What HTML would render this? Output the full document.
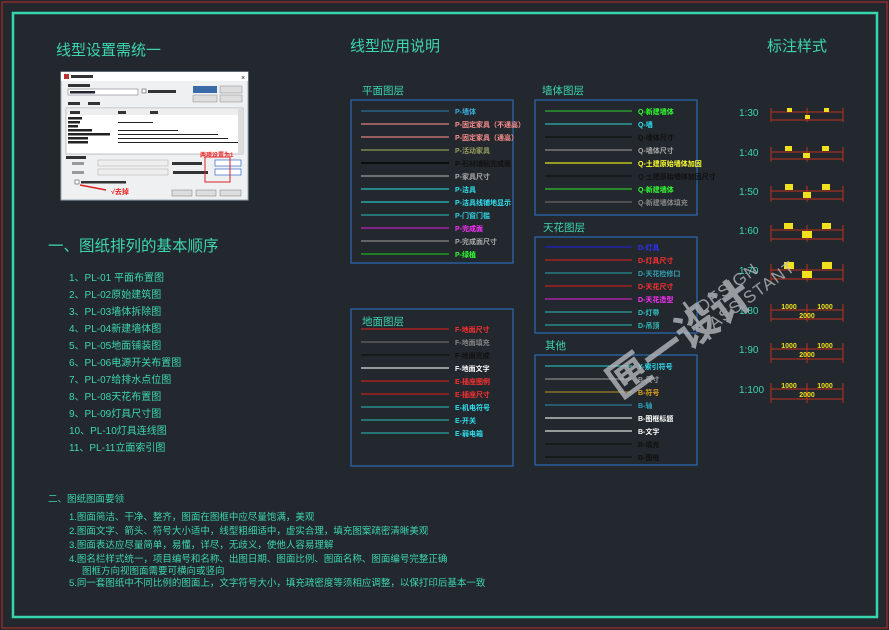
<!DOCTYPE html>
<html><head><meta charset="utf-8"><style>
html,body{margin:0;padding:0;background:#22282d;}
svg{display:block;font-family:"Liberation Sans","Noto Sans CJK SC",sans-serif;}
.t{fill:#3dd6b0;}
.lb{font-size:7px;font-weight:bold;}
</style></head><body>
<svg width="889" height="630" viewBox="0 0 889 630" xmlns="http://www.w3.org/2000/svg">
<rect width="889" height="630" fill="#22282d"/>
<!-- outer red frame -->
<rect x="2" y="2" width="885" height="626" fill="none" stroke="#8a2a2a" stroke-width="1.5"/>
<rect x="13" y="13" width="864" height="604" fill="none" stroke="#35d6ae" stroke-width="2.5"/>

<!-- titles -->
<text x="56" y="55" class="t" font-size="15">线型设置需统一</text>
<text x="350" y="51" class="t" font-size="15">线型应用说明</text>
<text x="767" y="51" class="t" font-size="15">标注样式</text>

<!-- dialog screenshot -->
<g>
<rect x="61" y="72" width="187" height="128" fill="#eef0f2" stroke="#9ab" stroke-width="1"/>
<rect x="61" y="72" width="187" height="9" fill="#fff"/>
<rect x="64" y="74" width="5" height="5" fill="#b33"/>
<rect x="71" y="75" width="22" height="3" fill="#333"/>
<text x="241" y="80" font-size="7" fill="#222">×</text>
<rect x="68" y="84" width="22" height="3" fill="#333"/>
<rect x="68" y="89" width="70" height="6" fill="#fff" stroke="#667" stroke-width=".5"/>
<rect x="70" y="91" width="25" height="2.5" fill="#223"/>
<rect x="142" y="89" width="4" height="4" fill="#fff" stroke="#333" stroke-width=".5"/>
<rect x="148" y="90" width="28" height="3" fill="#333"/>
<rect x="193" y="86" width="24" height="7" fill="#3a6aa8"/>
<rect x="220" y="86" width="22" height="7" fill="#ddd" stroke="#888" stroke-width=".5"/>
<rect x="193" y="95" width="24" height="7" fill="#ddd" stroke="#888" stroke-width=".5"/>
<rect x="220" y="95" width="22" height="7" fill="#ddd" stroke="#888" stroke-width=".5"/>
<rect x="68" y="102" width="12" height="3" fill="#333"/>
<rect x="88" y="102" width="12" height="3" fill="#333"/>
<rect x="66" y="108" width="177" height="46" fill="#fff" stroke="#888" stroke-width=".5"/>
<rect x="67" y="109" width="175" height="6" fill="#eee"/>
<rect x="70" y="111" width="10" height="3" fill="#333"/><rect x="118" y="111" width="8" height="3" fill="#333"/><rect x="150" y="111" width="8" height="3" fill="#333"/>
<g fill="#222">
<rect x="68" y="117" width="14" height="2.5"/><rect x="68" y="121" width="12" height="2.5"/><rect x="68" y="125" width="10" height="2.5"/><rect x="68" y="129" width="24" height="2.5"/><rect x="68" y="133" width="42" height="2.5"/><rect x="68" y="137" width="20" height="2.5"/><rect x="68" y="141" width="20" height="2.5"/>
<rect x="118" y="122" width="35" height="1"/><rect x="118" y="130" width="60" height="1"/><rect x="118" y="134" width="100" height="1"/><rect x="118" y="138" width="110" height="1"/><rect x="118" y="142" width="120" height="1"/>
</g>
<rect x="238" y="109" width="5" height="45" fill="#ddd"/>
<rect x="66" y="156" width="20" height="3" fill="#333"/>
<rect x="72" y="162" width="12" height="3" fill="#999"/><rect x="98" y="160" width="70" height="6" fill="#eee" stroke="#aaa" stroke-width=".5"/>
<rect x="72" y="171" width="12" height="3" fill="#999"/><rect x="98" y="169" width="70" height="6" fill="#eee" stroke="#aaa" stroke-width=".5"/>
<rect x="172" y="162" width="30" height="3" fill="#333"/><rect x="173" y="171" width="35" height="3" fill="#333"/>
<rect x="215" y="160" width="26" height="6" fill="#fff" stroke="#36c" stroke-width=".7"/>
<rect x="215" y="169" width="26" height="6" fill="#fff" stroke="#36c" stroke-width=".7"/>
<rect x="205" y="157" width="25" height="25" fill="none" stroke="#d22" stroke-width="1"/>
<text x="200" y="157" font-size="6" fill="#e22" font-weight="bold">两项设置为1</text>
<rect x="75" y="180" width="4" height="4" fill="#fff" stroke="#333" stroke-width=".5"/>
<rect x="81" y="181" width="45" height="2.5" fill="#333"/>
<line x1="80" y1="185" x2="106" y2="190" stroke="#d22" stroke-width="1.5"/>
<text x="111" y="194" font-size="7" fill="#e22" font-weight="bold">√去掉</text>
<rect x="172" y="190" width="20" height="6" fill="#ddd" stroke="#777" stroke-width=".5"/>
<rect x="196" y="190" width="20" height="6" fill="#ddd" stroke="#777" stroke-width=".5"/>
<rect x="220" y="190" width="21" height="6" fill="#ddd" stroke="#777" stroke-width=".5"/>
</g>

<!-- section 1 -->
<text x="48" y="251" class="t" font-size="15.5">一、图纸排列的基本顺序</text>
<g class="t" font-size="10">
<text x="69" y="281">1、PL-01  平面布置图</text>
<text x="69" y="298">2、PL-02原始建筑图</text>
<text x="69" y="315">3、PL-03墙体拆除图</text>
<text x="69" y="332">4、PL-04新建墙体图</text>
<text x="69" y="349">5、PL-05地面铺装图</text>
<text x="69" y="366">6、PL-06电源开关布置图</text>
<text x="69" y="383">7、PL-07给排水点位图</text>
<text x="69" y="400">8、PL-08天花布置图</text>
<text x="69" y="417">9、PL-09灯具尺寸图</text>
<text x="69" y="434">10、PL-10灯具连线图</text>
<text x="69" y="451">11、PL-11立面索引图</text>
</g>

<!-- section 2 -->
<g class="t" font-size="9.5">
<text x="48" y="502">二、图纸图面要领</text>
<text x="69" y="520">1.图面简洁、干净、整齐，图面在图框中应尽量饱满，美观</text>
<text x="69" y="534">2.图面文字、箭头、符号大小适中，线型粗细适中，虚实合理，填充图案疏密清晰美观</text>
<text x="69" y="548">3.图面表达应尽量简单，易懂，详尽，无歧义，使他人容易理解</text>
<text x="69" y="562">4.图名栏样式统一，项目编号和名称、出图日期、图面比例、图面名称、图面编号完整正确</text>
<text x="82" y="574">图框方向视图面需要可横向或竖向</text>
<text x="69" y="586">5.同一套图纸中不同比例的图面上，文字符号大小，填充疏密度等须相应调整，以保打印后基本一致</text>
</g>

<!-- legend titles -->
<g class="t" font-size="10.5">
<text x="362" y="94">平面图层</text>
<text x="542" y="94">墙体图层</text>
<text x="543" y="231">天花图层</text>
<text x="362" y="325">地面图层</text>
<text x="545" y="349">其他</text>
</g>
<g fill="none" stroke="#2a6ab8" stroke-width="1.2">
<rect x="351" y="100" width="162" height="163"/>
<rect x="535" y="100" width="162" height="115"/>
<rect x="535" y="237" width="162" height="96"/>
<rect x="351" y="309" width="162" height="157"/>
<rect x="535" y="355" width="162" height="110"/>
</g>

<!-- 平面 -->
<g stroke-width="1.3">
<line x1="361" y1="111" x2="449" y2="111" stroke="#2a6f9a"/>
<line x1="361" y1="124" x2="449" y2="124" stroke="#e08080"/>
<line x1="361" y1="137" x2="449" y2="137" stroke="#e08080"/>
<line x1="361" y1="150" x2="449" y2="150" stroke="#8a9a50"/>
<line x1="361" y1="163" x2="449" y2="163" stroke="#000"/>
<line x1="361" y1="176" x2="449" y2="176" stroke="#999"/>
<line x1="361" y1="189" x2="449" y2="189" stroke="#2ac0c0"/>
<line x1="361" y1="202" x2="449" y2="202" stroke="#2ac0c0"/>
<line x1="361" y1="215" x2="449" y2="215" stroke="#2aa0a0"/>
<line x1="361" y1="228" x2="449" y2="228" stroke="#c020c0"/>
<line x1="361" y1="241" x2="449" y2="241" stroke="#888"/>
<line x1="361" y1="254" x2="449" y2="254" stroke="#20b020"/>
</g>
<g class="lb">
<text x="455" y="114" fill="#3ab0e0">P-墙体</text>
<text x="455" y="127" fill="#ff9090">P-固定家具（不通高）</text>
<text x="455" y="140" fill="#ff9090">P-固定家具（通高）</text>
<text x="455" y="153" fill="#9aa060">P-活动家具</text>
<text x="455" y="166" fill="#111">P-石材铺贴完成面</text>
<text x="455" y="179" fill="#aaa">P-家具尺寸</text>
<text x="455" y="192" fill="#30e0f0">P-洁具</text>
<text x="455" y="205" fill="#30e0f0">P-洁具线铺地显示</text>
<text x="455" y="218" fill="#30d0e0">P-门窗门槛</text>
<text x="455" y="231" fill="#ff30ff">P-完成面</text>
<text x="455" y="244" fill="#aaa">P-完成面尺寸</text>
<text x="455" y="257" fill="#30ff30">P-绿植</text>
</g>

<!-- 墙体 -->
<g stroke-width="1.3">
<line x1="545" y1="111" x2="632" y2="111" stroke="#30b030"/>
<line x1="545" y1="124" x2="632" y2="124" stroke="#30b0b0"/>
<line x1="545" y1="137" x2="632" y2="137" stroke="#111"/>
<line x1="545" y1="150" x2="632" y2="150" stroke="#888"/>
<line x1="545" y1="163" x2="632" y2="163" stroke="#e0e020"/>
<line x1="545" y1="176" x2="632" y2="176" stroke="#111"/>
<line x1="545" y1="189" x2="632" y2="189" stroke="#30c030"/>
<line x1="545" y1="202" x2="632" y2="202" stroke="#666"/>
</g>
<g class="lb">
<text x="638" y="114" fill="#30ff30">Q-新建墙体</text>
<text x="638" y="127" fill="#30e0f0">Q-墙</text>
<text x="638" y="140" fill="#111">Q-墙体尺寸</text>
<text x="638" y="153" fill="#aaa">Q-墙体尺寸</text>
<text x="638" y="166" fill="#ffff30">Q-土建原始墙体加固</text>
<text x="638" y="179" fill="#111">Q-土建原始墙体加固尺寸</text>
<text x="638" y="192" fill="#30ff30">Q-新建墙体</text>
<text x="638" y="205" fill="#888">Q-新建墙体填充</text>
</g>

<!-- 天花 -->
<g stroke-width="1.3">
<line x1="545" y1="247" x2="632" y2="247" stroke="#2020c0"/>
<line x1="545" y1="260" x2="632" y2="260" stroke="#c02020"/>
<line x1="545" y1="273" x2="632" y2="273" stroke="#2a8a9a"/>
<line x1="545" y1="286" x2="632" y2="286" stroke="#c02020"/>
<line x1="545" y1="299" x2="632" y2="299" stroke="#c020c0"/>
<line x1="545" y1="312" x2="632" y2="312" stroke="#2aa0a0"/>
<line x1="545" y1="325" x2="632" y2="325" stroke="#2aa0a0"/>
</g>
<g class="lb">
<text x="638" y="250" fill="#3030ff">D-灯具</text>
<text x="638" y="263" fill="#ff3030">D-灯具尺寸</text>
<text x="638" y="276" fill="#30a0b0">D-天花检修口</text>
<text x="638" y="289" fill="#ff3030">D-天花尺寸</text>
<text x="638" y="302" fill="#ff30ff">D-天花造型</text>
<text x="638" y="315" fill="#30c0c0">D-灯带</text>
<text x="638" y="328" fill="#30c0c0">D-吊顶</text>
</g>

<!-- 地面 -->
<g stroke-width="1.3">
<line x1="361" y1="329" x2="449" y2="329" stroke="#c02020"/>
<line x1="361" y1="342" x2="449" y2="342" stroke="#666"/>
<line x1="361" y1="355" x2="449" y2="355" stroke="#111"/>
<line x1="361" y1="368" x2="449" y2="368" stroke="#ddd"/>
<line x1="361" y1="381" x2="449" y2="381" stroke="#c02020"/>
<line x1="361" y1="394" x2="449" y2="394" stroke="#c02020"/>
<line x1="361" y1="407" x2="449" y2="407" stroke="#2aa0a0"/>
<line x1="361" y1="420" x2="449" y2="420" stroke="#2aa0a0"/>
<line x1="361" y1="433" x2="449" y2="433" stroke="#2aa0a0"/>
</g>
<g class="lb">
<text x="455" y="332" fill="#ff3030">F-地面尺寸</text>
<text x="455" y="345" fill="#888">F-地面填充</text>
<text x="455" y="358" fill="#111">F-地面完成</text>
<text x="455" y="371" fill="#fff">F-地面文字</text>
<text x="455" y="384" fill="#ff3030">E-插座图例</text>
<text x="455" y="397" fill="#ff3030">E-插座尺寸</text>
<text x="455" y="410" fill="#30e0f0">E-机电符号</text>
<text x="455" y="423" fill="#30e0f0">E-开关</text>
<text x="455" y="436" fill="#30e0f0">E-弱电箱</text>
</g>

<!-- 其他 -->
<g stroke-width="1.3">
<line x1="545" y1="366" x2="632" y2="366" stroke="#2ab0b0"/>
<line x1="545" y1="379" x2="632" y2="379" stroke="#888"/>
<line x1="545" y1="392" x2="632" y2="392" stroke="#a08020"/>
<line x1="545" y1="405" x2="632" y2="405" stroke="#2a7a9a"/>
<line x1="545" y1="418" x2="632" y2="418" stroke="#ddd"/>
<line x1="545" y1="431" x2="632" y2="431" stroke="#ddd"/>
<line x1="545" y1="444" x2="632" y2="444" stroke="#111"/>
<line x1="545" y1="457" x2="632" y2="457" stroke="#111"/>
</g>
<g class="lb">
<text x="638" y="369" fill="#30e0f0">Y-索引符号</text>
<text x="638" y="382" fill="#999">B-尺寸</text>
<text x="638" y="395" fill="#e0a020">B-符号</text>
<text x="638" y="408" fill="#30a0c0">B-轴</text>
<text x="638" y="421" fill="#fff">B-图框标题</text>
<text x="638" y="434" fill="#fff">B-文字</text>
<text x="638" y="447" fill="#111">B-填充</text>
<text x="638" y="460" fill="#111">B-图框</text>
</g>

<!-- scale styles -->
<g class="t" font-size="10">
<text x="739" y="116">1:30</text>
<text x="739" y="156">1:40</text>
<text x="739" y="195">1:50</text>
<text x="739" y="234">1:60</text>
<text x="739" y="274">1:70</text>
<text x="739" y="314">1:80</text>
<text x="739" y="353">1:90</text>
<text x="739" y="393">1:100</text>
</g>
<g stroke="#c03020" stroke-width="1" fill="none">
<path d="M771,108V122M807,108V122M843,108V122M771,112H843M771,120H843"/>
<path d="M771,147V162M807,147V162M843,147V162M771,152H843M771,159H843"/>
<path d="M771,186V202M807,186V202M843,186V202M771,191H843M771,199H843"/>
<path d="M771,225V242M807,225V242M843,225V242M771,230H843M771,239H843"/>
<path d="M771,264V282M807,264V282M843,264V282M771,270H843M771,279H843"/>
<path d="M771,304V322M807,304V322M843,304V322M771,310H843M771,319H843"/>
<path d="M771,343V363M807,343V363M843,343V363M771,349H843M771,359H843"/>
<path d="M771,383V403M807,383V403M843,383V403M771,389H843M771,399H843"/>
</g>
<g fill="#f0e020">
<rect x="787" y="108" width="5" height="4"/><rect x="824" y="108" width="5" height="4"/><rect x="805" y="115" width="5" height="4"/>
<rect x="785" y="146" width="7" height="5"/><rect x="822" y="146" width="7" height="5"/><rect x="803" y="153" width="7" height="5"/>
<rect x="785" y="184" width="8" height="6"/><rect x="822" y="184" width="8" height="6"/><rect x="803" y="192" width="8" height="6"/>
<rect x="784" y="223" width="9" height="6"/><rect x="822" y="223" width="9" height="6"/><rect x="802" y="231" width="10" height="7"/>
<rect x="784" y="262" width="10" height="7"/><rect x="822" y="262" width="10" height="7"/><rect x="802" y="271" width="10" height="7"/>
</g>
<g fill="#f0e020" font-size="7" font-weight="bold" text-anchor="middle">
<text x="789" y="309">1000</text><text x="825" y="309">1000</text><text x="807" y="318">2000</text>
<text x="789" y="348">1000</text><text x="825" y="348">1000</text><text x="807" y="357">2000</text>
<text x="789" y="388">1000</text><text x="825" y="388">1000</text><text x="807" y="397">2000</text>
</g>

<!-- watermark -->
<g opacity="0.78" fill="#b8bcc0" transform="translate(690,300) rotate(-36)">
<text x="-115" y="40" font-size="42" font-weight="bold">匣一设计</text>
<rect x="-8" y="-2" width="3" height="46"/>
<text x="2" y="18" font-size="17" letter-spacing="1">DESIGN</text>
<text x="2" y="38" font-size="17" letter-spacing="1">ASSISTANT</text>
</g>
</svg>
</body></html>
